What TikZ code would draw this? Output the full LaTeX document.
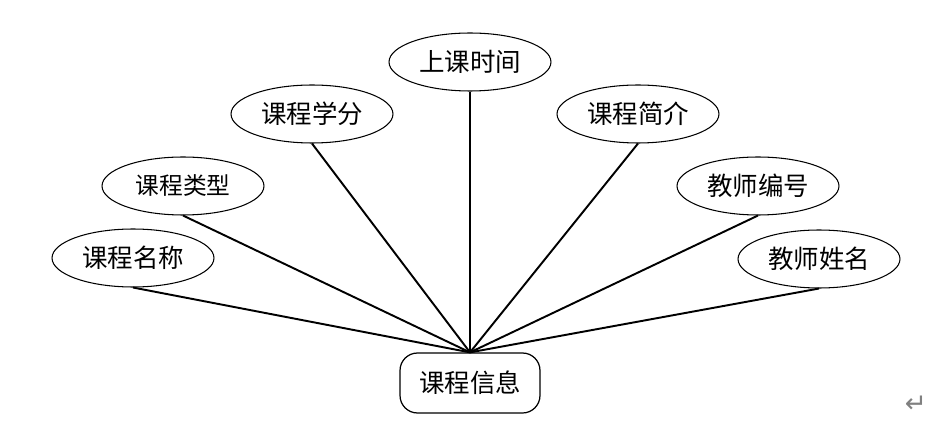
\documentclass[tikz,border=0pt]{standalone}
\usepackage{fontspec}
\newfontfamily\cjk{Noto Sans CJK SC}
\newfontfamily\symb{DejaVu Sans}
\usepackage{tikz}
\usetikzlibrary
  {
    shapes.geometric,         % ellipse nodes
    positioning,              % place nodes relative to other nodes
  }

\begin{document}
\begin{tikzpicture}
    [
      x=0.02cm,
      y=-0.02cm,
      attribute/.style=
        {
          ellipse,
          draw=black,
          line width=0.6pt,
          minimum width=3.24cm,
          minimum height=1.16cm,
          inner sep=0pt,
          font=\cjk\fontsize{14.5}{16}\selectfont,
        },
      entity/.style=
        {
          rectangle,
          rounded corners=3.5mm,
          draw=black,
          line width=0.7pt,
          minimum width=2.8cm,
          minimum height=1.2cm,
          font=\cjk\fontsize{14.5}{16}\selectfont,
        },
      link/.style=
        {
          line width=1.1pt,
        },
    ]
    \useasboundingbox (0,0) rectangle (950,422);
    \node[entity]    (info)     at (470,383) {课程信息};
    \node[attribute] (name)     at (133,258) {课程名称};
    \node[attribute, font=\cjk\fontsize{13.5}{15}\selectfont]
                     (kind)     at (183,186) {课程类型};
    \node[attribute] (credit)   at (312,114) {课程学分};
    \node[attribute] (time)     at (470,62)  {上课时间};
    \node[attribute] (intro)    at (638,114) {课程简介};
    \node[attribute] (teachno)  at (758,186) {教师编号};
    \node[attribute] (teachname) at (819,259) {教师姓名};
    \node[text=black!50, font=\symb\fontsize{15}{16}\selectfont]
                     (mark)     at (916,404) {↵};

    \foreach \a in {name,kind,credit,time,intro,teachno,teachname}
      \draw[link] (\a.south) -- (info.north);
\end{tikzpicture}
\end{document}
